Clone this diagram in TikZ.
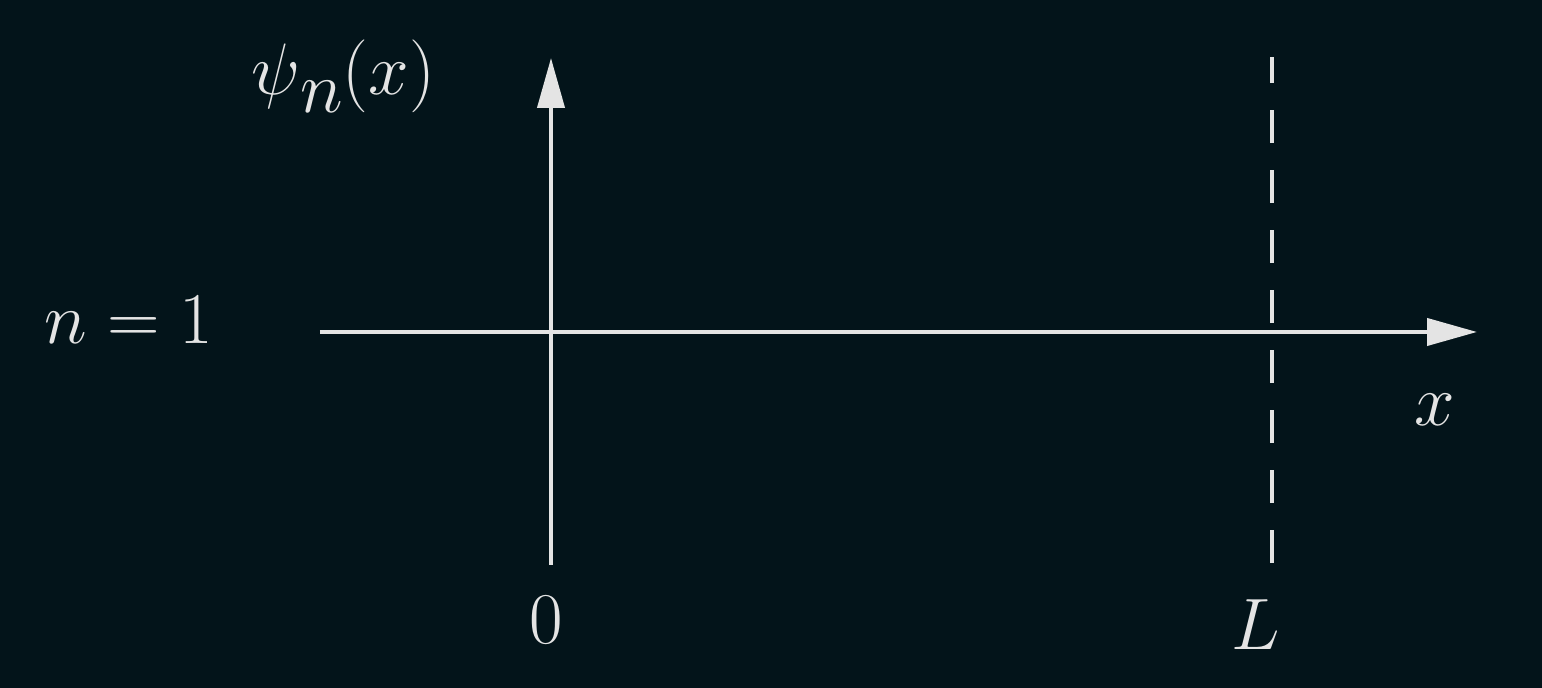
\documentclass[tikz,border=0pt]{standalone}
\usepackage{amsmath}
\usetikzlibrary{arrows.meta}
\definecolor{bgdark}{HTML}{03141A}
\definecolor{chalk}{HTML}{E4E4E4}

\begin{document}
\begin{tikzpicture}[
  axis/.style={draw=chalk, line width=1.15pt, -{Triangle[length=0.5cm,width=0.27cm]}},
  wall/.style={draw=chalk, line width=1.3pt, dash pattern=on 0.33cm off 0.27cm},
  lbl/.style={text=chalk, font=\fontsize{22.5}{27}\selectfont, anchor=base, inner sep=0pt}
]
  \fill[bgdark] (-5.51,-3.56) rectangle (9.91,3.32);
  \useasboundingbox (-5.51,-3.56) rectangle (9.91,3.32);

  \coordinate (xstart) at (-2.31,0);
  \coordinate (xend)   at (9.26,0);
  \coordinate (ystart) at (0,-2.33);
  \coordinate (yend)   at (0,2.74);
  \coordinate (wallbot) at (7.21,-2.31);
  \coordinate (walltop) at (7.21,2.75);

  \draw[axis] (xstart) -- (xend);
  \draw[axis] (ystart) -- (yend);
  \draw[wall] (wallbot) -- (walltop);

  \node[lbl, font=\fontsize{20.5}{25}\selectfont] (psi) at (-2.08,2.37) {$\psi\lower0.24em\hbox{$n$}(x)$};
  \node[lbl] (level) at (-4.22,-0.12) {$n = 1$};
  \node[lbl] (zero)  at (-0.05,-3.12) {$0$};
  \node[lbl] (len)   at (7.05,-3.18)  {$L$};
  \node[lbl] (xlbl)  at (8.84,-0.94)  {$x$};
\end{tikzpicture}
\end{document}
